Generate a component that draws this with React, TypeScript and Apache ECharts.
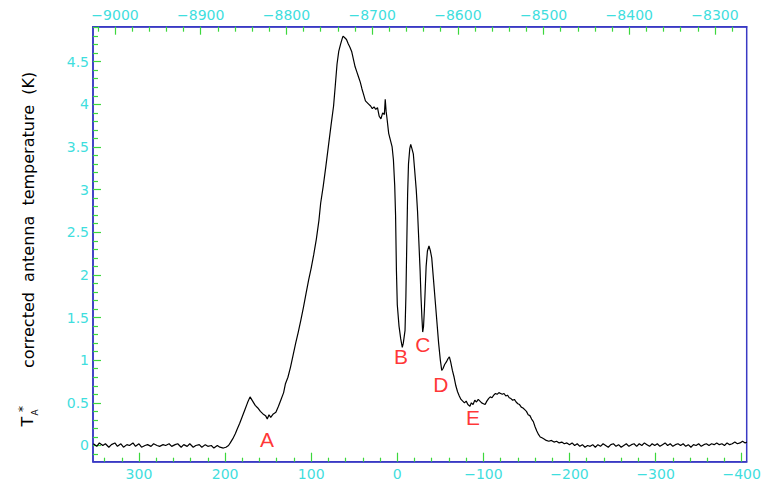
import React, { useEffect, useRef } from "react";
import * as echarts from "echarts";

// ---- data: [velocity, T*A] pairs ----
const baselineLeft: [number, number][] = [
  [353, 0.02], [349, -0.01], [346, 0.03], [342, 0.0], [339, 0.02], [335, -0.02], [332, 0.01],
  [328, 0.03], [325, -0.01], [321, 0.02], [318, -0.02], [314, 0.01], [311, 0.0], [307, 0.03],
  [304, -0.01], [300, 0.02], [297, -0.02], [293, 0.0], [290, 0.01], [286, -0.01], [283, 0.02],
  [279, 0.0], [276, -0.01], [272, 0.01], [269, 0.0], [265, 0.02], [262, -0.01], [258, 0.01],
  [255, 0.02], [251, -0.02], [248, 0.01], [244, -0.01], [241, 0.02], [237, -0.02], [234, 0.0],
  [230, 0.01], [227, -0.02], [223, 0.01], [220, -0.01], [216, 0.0], [213, -0.03], [209, 0.0],
  [206, -0.02], [202, -0.03], [199, -0.02], [196, 0.0],
];
const bumpA: [number, number][] = [
  [194, 0.03], [191, 0.08], [188, 0.14], [186, 0.19], [183, 0.26], [180, 0.34], [177, 0.42],
  [174, 0.5], [171, 0.57], [168, 0.52], [165, 0.47], [162, 0.44], [159, 0.4], [156, 0.37],
  [153, 0.35], [151, 0.31], [149, 0.36], [147, 0.33], [144, 0.37], [141, 0.39], [138, 0.46],
];
const mainRise: [number, number][] = [
  [135, 0.54], [132, 0.62], [130, 0.72], [127, 0.8], [124, 0.92], [121, 1.06], [118, 1.2],
  [115, 1.33], [112, 1.47], [109, 1.62], [106, 1.78], [103, 1.94], [100, 2.08], [97, 2.24],
  [94, 2.42], [91, 2.64], [89, 2.84], [86, 3.04], [83, 3.27], [80, 3.51], [77, 3.75], [74, 3.98],
  [72, 4.22], [70, 4.47], [68, 4.62], [66, 4.7], [64, 4.77], [63, 4.8],
];
const mainFall: [number, number][] = [
  [61, 4.78], [59, 4.76], [57, 4.71], [55, 4.67], [53, 4.62], [51, 4.53], [49, 4.44], [47, 4.38],
  [45, 4.32], [43, 4.26], [41, 4.18], [39, 4.11], [37, 4.04], [35, 4.02], [33, 4.0], [31, 3.98],
  [29, 3.95], [27, 3.97], [25, 3.94], [23, 3.96], [21, 3.86], [19, 3.83], [17, 3.9], [15, 3.88],
  [14, 4.06], [13, 3.92], [12, 3.84], [10, 3.66], [8, 3.58], [6, 3.5], [4.5, 3.35],
];
const absorption: [number, number][] = [
  [3, 3.05], [2, 2.7], [1, 2.05], [0, 1.65], [-2, 1.4], [-4, 1.25], [-5.8, 1.15], [-7, 1.2],
  [-9, 1.35], [-10, 1.75], [-11, 2.35], [-12, 2.95], [-13, 3.3], [-14.5, 3.48], [-15.6, 3.53],
  [-17, 3.48], [-18.6, 3.42], [-20, 3.25], [-22, 3.0], [-23.5, 2.75], [-25, 2.4], [-26.5, 2.05],
  [-27.5, 1.75], [-28.5, 1.52], [-29.5, 1.33], [-30.5, 1.4], [-31.5, 1.6], [-32.5, 1.85],
  [-33.5, 2.1], [-35, 2.28], [-36.8, 2.34], [-38.5, 2.28], [-40, 2.2], [-42, 1.95], [-44, 1.7],
  [-46, 1.45], [-48, 1.2], [-50, 1.0], [-51.6, 0.88], [-53, 0.9], [-55, 0.95], [-57, 0.98],
  [-59, 1.02], [-60.5, 1.04], [-62, 0.98], [-64, 0.88], [-66, 0.8], [-68, 0.7], [-70, 0.63],
  [-72, 0.58], [-74, 0.54],
];
const wing: [number, number][] = [
  [-76, 0.52], [-78, 0.5], [-80, 0.52], [-82, 0.48], [-84.4, 0.46], [-86, 0.5], [-88, 0.48],
  [-90, 0.53], [-92, 0.51], [-94, 0.54], [-96, 0.52], [-98, 0.5], [-100, 0.49], [-102, 0.48],
  [-104, 0.52], [-106, 0.55], [-108, 0.57], [-110, 0.56], [-112, 0.59], [-114, 0.61],
  [-116, 0.6], [-118, 0.62], [-120, 0.61], [-122, 0.6], [-124, 0.61], [-126, 0.58], [-128, 0.59],
  [-130, 0.56], [-132, 0.55], [-134, 0.53], [-136, 0.54], [-138, 0.51], [-140, 0.49],
  [-142, 0.48], [-144, 0.45], [-146, 0.44], [-148, 0.42], [-150, 0.4], [-152, 0.36],
  [-154, 0.35], [-156, 0.31], [-158, 0.28], [-160, 0.22], [-162, 0.17], [-164, 0.13],
  [-166, 0.1], [-168, 0.09], [-170, 0.08], [-173, 0.06], [-176, 0.05], [-179, 0.06],
  [-182, 0.04], [-185, 0.05], [-188, 0.03], [-191, 0.04], [-194, 0.02], [-197, 0.03],
];
const baselineRight: [number, number][] = [
  [-200, 0.01], [-203, 0.03], [-206, 0.0], [-209, 0.02], [-212, -0.01], [-215, 0.01],
  [-218, -0.02], [-221, 0.0], [-224, -0.01], [-227, 0.01], [-230, -0.02], [-233, 0.01],
  [-236, -0.01], [-239, 0.02], [-242, 0.0], [-245, -0.02], [-248, 0.01], [-251, 0.02],
  [-254, -0.01], [-257, 0.01], [-260, -0.02], [-263, 0.0], [-266, 0.02], [-269, -0.01],
  [-272, 0.01], [-275, 0.02], [-278, -0.01], [-281, 0.02], [-284, 0.0], [-287, 0.03],
  [-290, 0.01], [-293, -0.01], [-296, 0.02], [-299, 0.0], [-302, 0.02], [-305, -0.01],
  [-308, 0.01], [-311, 0.03], [-314, 0.0], [-317, 0.02], [-320, -0.01], [-323, 0.01],
  [-326, 0.02], [-329, 0.0], [-332, 0.02], [-335, -0.01], [-338, 0.01], [-341, -0.02],
  [-344, 0.01], [-347, 0.0], [-350, 0.02], [-353, -0.01], [-356, 0.01], [-359, 0.02],
  [-362, 0.0], [-365, 0.02], [-368, 0.01], [-371, 0.03], [-374, 0.01], [-377, 0.02],
  [-380, 0.0], [-383, 0.03], [-386, 0.01], [-389, 0.02], [-392, 0.04], [-395, 0.02],
  [-398, 0.03], [-401, 0.05], [-404, 0.03], [-406, 0.04],
];

const markerLetters = ["A", "B", "C", "D", "E"];
const markerVel = [151.3, -4.3, -29.8, -50.7, -87.9];
const markerT = [0.067, 1.04, 1.18, 0.71, 0.325];

// axis ranges and ticks
const VEL_MIN = -405.8;
const VEL_MAX = 353.4;
const TOP_MIN = -9025.7;
const TOP_MAX = -8263;
const T_MIN = -0.19;
const T_MAX = 4.91;

const velMajor = [-400, -300, -200, -100, 0, 100, 200, 300];
const velMinor = [
  -380, -360, -340, -320, -280, -260, -240, -220, -180, -160, -140, -120, -80, -60, -40, -20,
  20, 40, 60, 80, 120, 140, 160, 180, 220, 240, 260, 280, 320, 340,
];
const topMajor = [-9000, -8900, -8800, -8700, -8600, -8500, -8400, -8300];
const topMinor = [
  -9020, -8980, -8960, -8940, -8920, -8880, -8860, -8840, -8820, -8780, -8760, -8740, -8720,
  -8680, -8660, -8640, -8620, -8580, -8560, -8540, -8520, -8480, -8460, -8440, -8420, -8380,
  -8360, -8340, -8320, -8280,
];
const tMajor = [0, 0.5, 1, 1.5, 2, 2.5, 3, 3.5, 4, 4.5];
const tMinor = [
  -0.1, 0.1, 0.2, 0.3, 0.4, 0.6, 0.7, 0.8, 0.9, 1.1, 1.2, 1.3, 1.4, 1.6, 1.7, 1.8, 1.9, 2.1,
  2.2, 2.3, 2.4, 2.6, 2.7, 2.8, 2.9, 3.1, 3.2, 3.3, 3.4, 3.6, 3.7, 3.8, 3.9, 4.1, 4.2, 4.3,
  4.4, 4.6, 4.7, 4.8, 4.9,
];

const BLUE = "#3a3ac4";
const GREEN = "#3cd83c";
const CYAN = "#3fdede";
const LABEL_FONT = "DejaVu Sans";

const fmtMinus = (v: number) => String(v).replace("-", "\u2212");

function majorX(position: "top" | "bottom", min: number, max: number, inverse: boolean, major: number[], len: number) {
  return {
    type: "value",
    position,
    min,
    max,
    inverse,
    axisLine: { show: true, onZero: false, lineStyle: { color: BLUE, width: 1.5 } },
    axisTick: { show: true, inside: true, length: len, customValues: major, lineStyle: { color: GREEN, width: 1.2 } },
    axisLabel: {
      show: true,
      customValues: major,
      color: CYAN,
      fontSize: 14,
      fontFamily: LABEL_FONT,
      margin: 5,
      formatter: fmtMinus,
    },
    splitLine: { show: false },
  };
}
function minorX(position: "top" | "bottom", min: number, max: number, inverse: boolean, minor: number[], len: number) {
  return {
    type: "value",
    position,
    min,
    max,
    inverse,
    axisLine: { show: false, onZero: false },
    axisTick: { show: true, inside: true, length: len, customValues: minor, lineStyle: { color: GREEN, width: 1.2 } },
    axisLabel: { show: false },
    splitLine: { show: false },
  };
}

export default function App() {
  const ref = useRef<HTMLDivElement>(null);
  useEffect(() => {
    if (!ref.current) return;
    const chart = echarts.init(ref.current, null, { renderer: "svg" });
    const spectrum = [
      ...baselineLeft,
      ...bumpA,
      ...mainRise,
      ...mainFall,
      ...absorption,
      ...wing,
      ...baselineRight,
    ];
    const markers = markerLetters.map((l, i) => ({ name: l, value: [markerVel[i], markerT[i]] }));
    chart.setOption({
      animation: false,
      backgroundColor: "#ffffff",
      grid: {
        left: 93,
        right: 23.3,
        top: 26.7,
        bottom: 23.3,
        show: true,
        borderColor: BLUE,
        borderWidth: 1.5,
        backgroundColor: "transparent",
        containLabel: false,
        outerBoundsMode: "none",
      },
      xAxis: [
        majorX("bottom", VEL_MIN, VEL_MAX, true, velMajor, 9),
        minorX("bottom", VEL_MIN, VEL_MAX, true, velMinor, 4),
        majorX("top", TOP_MIN, TOP_MAX, false, topMajor, 8),
        minorX("top", TOP_MIN, TOP_MAX, false, topMinor, 5),
      ],
      yAxis: [
        {
          type: "value",
          position: "left",
          min: T_MIN,
          max: T_MAX,
          axisLine: { show: true, onZero: false, lineStyle: { color: BLUE, width: 1.5 } },
          axisTick: { show: true, inside: true, length: 8, customValues: tMajor, lineStyle: { color: GREEN, width: 1.2 } },
          axisLabel: {
            show: true,
            customValues: tMajor,
            color: CYAN,
            fontSize: 14,
            fontFamily: LABEL_FONT,
            margin: 4,
          },
          splitLine: { show: false },
        },
        {
          type: "value",
          position: "left",
          min: T_MIN,
          max: T_MAX,
          axisLine: { show: false, onZero: false },
          axisTick: { show: true, inside: true, length: 5, customValues: tMinor, lineStyle: { color: GREEN, width: 1.2 } },
          axisLabel: { show: false },
          splitLine: { show: false },
        },
      ],
      series: [
        {
          type: "line",
          xAxisIndex: 0,
          yAxisIndex: 0,
          data: spectrum,
          showSymbol: false,
          symbol: "none",
          silent: true,
          lineStyle: { color: "#000000", width: 1.2 },
        },
        {
          type: "scatter",
          xAxisIndex: 0,
          yAxisIndex: 0,
          data: markers,
          symbolSize: 0,
          silent: true,
          itemStyle: { color: "transparent" },
          label: {
            show: true,
            position: "inside",
            formatter: "{b}",
            color: "#ff0000",
            fontSize: 21,
            fontFamily: "Liberation Sans",
          },
        },
      ],
      graphic: [
        {
          type: "text",
          x: 28,
          y: 220,
          rotation: Math.PI / 2,
          style: {
            text: "corrected  antenna  temperature  (K)",
            fontSize: 16,
            fontFamily: LABEL_FONT,
            fill: "#000000",
            align: "center",
            verticalAlign: "middle",
          },
        },
        {
          type: "text",
          x: 27.5,
          y: 421.7,
          rotation: Math.PI / 2,
          style: { text: "T", fontSize: 16, fontFamily: LABEL_FONT, fill: "#000000", align: "center", verticalAlign: "middle" },
        },
        {
          type: "text",
          x: 22.5,
          y: 409,
          rotation: Math.PI / 2,
          style: { text: "*", fontSize: 12, fontFamily: LABEL_FONT, fill: "#000000", align: "center", verticalAlign: "middle" },
        },
        {
          type: "text",
          x: 35,
          y: 412.5,
          rotation: Math.PI / 2,
          style: { text: "A", fontSize: 9, fontFamily: LABEL_FONT, fill: "#000000", align: "center", verticalAlign: "middle" },
        },
      ],
    });
    return () => chart.dispose();
  }, []);
  return (
    <div
      ref={ref}
      style={{ position: "absolute", left: 0, top: 0, width: 770, height: 485, background: "#ffffff" }}
    />
  );
}
